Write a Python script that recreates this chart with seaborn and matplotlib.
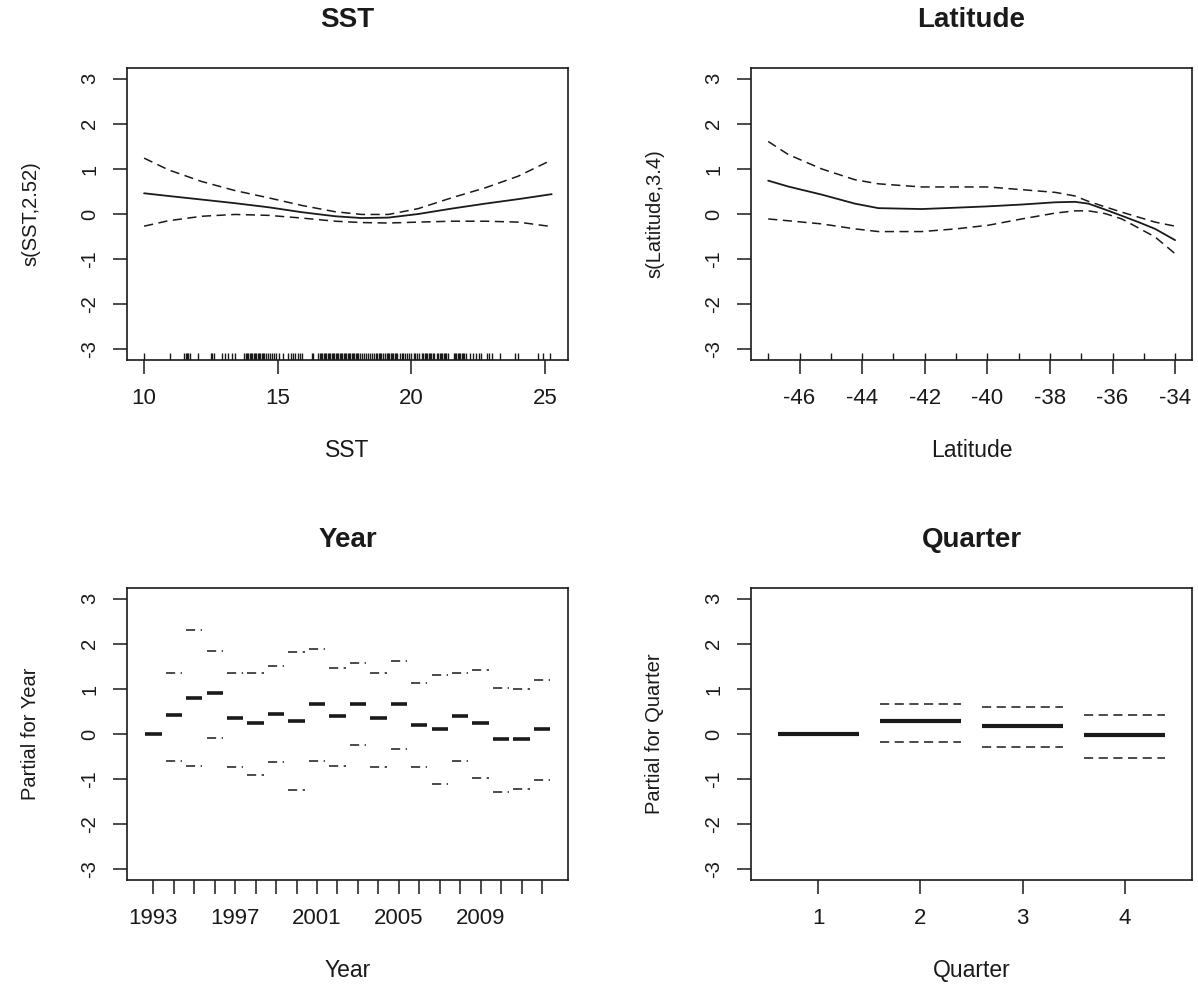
import numpy as np
import pandas as pd
import matplotlib
matplotlib.use("Agg")
import matplotlib.pyplot as plt
import seaborn as sns

# ---------------- data ----------------
sst_x = [10.0, 10.91, 12.16, 13.40, 14.65, 15.90, 17.15, 18.14, 19.14, 20.26, 21.51, 22.76, 24.0, 25.25]
sst_fit = [0.46, 0.40, 0.32, 0.24, 0.15, 0.04, -0.05, -0.09, -0.08, 0.0, 0.12, 0.23, 0.33, 0.44]
sst_upper = [1.24, 0.98, 0.72, 0.52, 0.36, 0.19, 0.05, -0.01, -0.01, 0.12, 0.36, 0.58, 0.84, 1.20]
sst_lower = [-0.27, -0.15, -0.05, -0.01, -0.03, -0.09, -0.16, -0.19, -0.20, -0.18, -0.16, -0.16, -0.18, -0.28]

sst_rug = [10.00, 10.97, 11.50, 11.55, 11.60, 11.65, 11.70, 12.01, 12.50, 12.55, 12.60,
           12.91, 13.03, 13.15, 13.28, 13.40,
           13.75, 13.80, 13.85, 13.90, 13.95, 14.00, 14.05, 14.10, 14.15, 14.20, 14.25,
           14.30, 14.35, 14.40, 14.45, 14.50, 14.55,
           14.62, 14.70, 14.78, 14.85, 14.93, 15.06, 15.21,
           15.40, 15.50, 15.58, 15.66, 15.75, 15.82, 15.90, 16.27, 16.33,
           16.52, 16.57, 16.62, 16.67, 16.72, 16.77, 16.82, 16.87, 16.92, 16.97, 17.02,
           17.07, 17.12, 17.17, 17.22, 17.27, 17.32, 17.37, 17.42, 17.47, 17.52, 17.57,
           17.62, 17.67, 17.72, 17.77, 17.82, 17.87, 17.92, 17.97, 18.02, 18.07,
           18.15, 18.22, 18.30, 18.38, 18.45, 18.52,
           18.62, 18.67, 18.72, 18.77, 18.82, 18.87, 18.92,
           19.02, 19.07, 19.12, 19.17, 19.22, 19.27, 19.32, 19.37, 19.42, 19.47,
           19.58, 19.64, 19.70, 19.77, 19.85, 19.92, 20.00, 20.08, 20.15, 20.22, 20.30,
           20.40, 20.45, 20.50, 20.55, 20.60, 20.65, 20.70, 20.75, 20.80, 20.85,
           20.96, 21.01, 21.06, 21.11, 21.16, 21.21, 21.26, 21.31, 21.36,
           21.58, 21.63, 21.68, 21.73, 21.78, 21.83, 21.88, 21.93, 21.98, 22.03,
           22.20, 22.30, 22.42, 22.52, 22.62, 22.82, 22.92, 23.00,
           23.32, 23.88, 24.00, 24.75, 24.94, 25.19]

lat_x = [-47.0, -46.36, -45.29, -44.23, -43.48, -42.10, -41.00, -39.97, -38.90,
         -37.83, -37.20, -36.77, -36.24, -35.70, -35.17, -34.64, -34.0]
lat_fit = [0.74, 0.61, 0.43, 0.23, 0.13, 0.11, 0.14, 0.17, 0.21,
           0.26, 0.27, 0.23, 0.10, -0.04, -0.18, -0.33, -0.58]
lat_upper = [1.61, 1.32, 1.00, 0.76, 0.67, 0.60, 0.60, 0.60, 0.54,
             0.48, 0.40, 0.28, 0.16, 0.04, -0.07, -0.18, -0.27]
lat_lower = [-0.11, -0.15, -0.22, -0.33, -0.39, -0.39, -0.33, -0.25, -0.11,
             0.02, 0.07, 0.07, 0.01, -0.11, -0.31, -0.51, -0.88]
lat_rug = [-47, -46, -45, -44, -43, -42, -41, -40, -39, -38, -37, -36, -35, -34]

years = [1993, 1994, 1995, 1996, 1997, 1998, 1999, 2000, 2001, 2002,
         2003, 2004, 2005, 2006, 2007, 2008, 2009, 2010, 2011, 2012]
year_fit = [0.00, 0.42, 0.80, 0.90, 0.36, 0.24, 0.45, 0.28, 0.66, 0.39,
            0.66, 0.36, 0.66, 0.21, 0.10, 0.39, 0.24, -0.10, -0.10, 0.11]
year_upper = [np.nan, 1.36, 2.30, 1.85, 1.36, 1.36, 1.50, 1.81, 1.88, 1.47,
              1.57, 1.36, 1.61, 1.13, 1.30, 1.36, 1.41, 1.02, 0.99, 1.19]
year_lower = [np.nan, -0.60, -0.70, -0.08, -0.73, -0.90, -0.63, -1.24, -0.60, -0.70,
              -0.25, -0.73, -0.33, -0.73, -1.11, -0.60, -0.97, -1.28, -1.21, -1.01]
year_labels = ["1993", "", "", "", "1997", "", "", "", "2001", "", "", "",
               "2005", "", "", "", "2009", "", "", ""]

quarters = [1, 2, 3, 4]
q_fit = [0.00, 0.28, 0.18, -0.02]
q_upper = [np.nan, 0.67, 0.61, 0.43]
q_lower = [np.nan, -0.185, -0.29, -0.53]

yticks = [-3, -2, -1, 0, 1, 2, 3]

# ---------------- style ----------------
sns.set_style("ticks")
plt.rcParams['font.family'] = ['Liberation Sans', 'DejaVu Sans']
plt.rcParams['axes.unicode_minus'] = False
INK = "#1a1a1a"
DASH = (0, (6.0, 3.6))

W, H = 1198, 985
fig = plt.figure(figsize=(W / 100, H / 100), dpi=100)


def add_ax(l, t, r, b):
    return fig.add_axes([l / W, 1 - b / H, (r - l) / W, (b - t) / H])


ax_sst = add_ax(127, 68, 568, 360)
ax_lat = add_ax(751, 68, 1192, 360)
ax_year = add_ax(127, 588, 568, 880)
ax_q = add_ax(751, 588, 1192, 880)


def style_axis(ax, title, xlabel, ylabel):
    ax.set_ylim(-3.24, 3.24)
    ax.set_yticks(yticks)
    ax.set_yticklabels([str(v) for v in yticks])
    for s in ax.spines.values():
        s.set_visible(True)
        s.set_color(INK)
        s.set_linewidth(1.2)
    ax.tick_params(axis='both', direction='out', length=10, width=1.1,
                   color=INK, labelcolor=INK, pad=10)
    ax.tick_params(axis='x', labelsize=16)
    ax.tick_params(axis='y', labelsize=14.5)
    for lab in ax.get_yticklabels():
        lab.set_rotation(90)
        lab.set_va('center')
    ax.set_title(title, fontsize=20, fontweight='bold', color=INK,
                 y=1.164, va='center', pad=0)
    ax.set_xlabel(xlabel, fontsize=16.5, color=INK)
    ax.set_ylabel(ylabel, fontsize=14.5, color=INK)
    ax.xaxis.set_label_coords(0.5, -0.272)
    ax.yaxis.set_label_coords(-0.197, 0.5)
    ax.grid(False)


# SST panel
df_sst = pd.DataFrame({"SST": sst_x, "fit": sst_fit, "up": sst_upper, "lo": sst_lower})
sns.lineplot(data=df_sst, x="SST", y="fit", ax=ax_sst, color=INK, lw=1.3,
             estimator=None, sort=False)
sns.lineplot(data=df_sst, x="SST", y="up", ax=ax_sst, color=INK, lw=1.1,
             linestyle=DASH, estimator=None, sort=False)
sns.lineplot(data=df_sst, x="SST", y="lo", ax=ax_sst, color=INK, lw=1.1,
             linestyle=DASH, estimator=None, sort=False)
sns.rugplot(x=sst_rug, ax=ax_sst, height=0.025, color=INK, lw=1.4)
ax_sst.set_xlim(9.36, 25.86)
ax_sst.set_xticks([10, 15, 20, 25])
style_axis(ax_sst, "SST", "SST", "s(SST,2.52)")

# Latitude panel
df_lat = pd.DataFrame({"Latitude": lat_x, "fit": lat_fit, "up": lat_upper, "lo": lat_lower})
sns.lineplot(data=df_lat, x="Latitude", y="fit", ax=ax_lat, color=INK, lw=1.3,
             estimator=None, sort=False)
sns.lineplot(data=df_lat, x="Latitude", y="up", ax=ax_lat, color=INK, lw=1.1,
             linestyle=DASH, estimator=None, sort=False)
sns.lineplot(data=df_lat, x="Latitude", y="lo", ax=ax_lat, color=INK, lw=1.1,
             linestyle=DASH, estimator=None, sort=False)
sns.rugplot(x=lat_rug, ax=ax_lat, height=0.025, color=INK, lw=1.2)
ax_lat.set_xlim(-47.55, -33.46)
ax_lat.set_xticks([-46, -44, -42, -40, -38, -36, -34])
style_axis(ax_lat, "Latitude", "Latitude", "s(Latitude,3.4)")

# Year panel
yr = np.array(years, dtype=float)
ax_year.hlines(year_fit, yr - 0.4, yr + 0.4, color=INK, lw=2.6)
ax_year.hlines(year_upper, yr - 0.4, yr + 0.4, color=INK, lw=1.1, linestyles=[DASH])
ax_year.hlines(year_lower, yr - 0.4, yr + 0.4, color=INK, lw=1.1, linestyles=[DASH])
ax_year.set_xlim(1991.71, 2013.27)
ax_year.set_xticks(years)
ax_year.set_xticklabels(year_labels)
style_axis(ax_year, "Year", "Year", "Partial for Year")

# Quarter panel
qq = np.array(quarters, dtype=float)
ax_q.hlines(q_fit, qq - 0.4, qq + 0.4, color=INK, lw=3.0)
ax_q.hlines(q_upper, qq - 0.4, qq + 0.4, color=INK, lw=1.1, linestyles=[DASH])
ax_q.hlines(q_lower, qq - 0.4, qq + 0.4, color=INK, lw=1.1, linestyles=[DASH])
ax_q.set_xlim(0.34, 4.66)
ax_q.set_xticks(quarters)
style_axis(ax_q, "Quarter", "Quarter", "Partial for Quarter")

fig.savefig("out.png", dpi=100, facecolor="white")
